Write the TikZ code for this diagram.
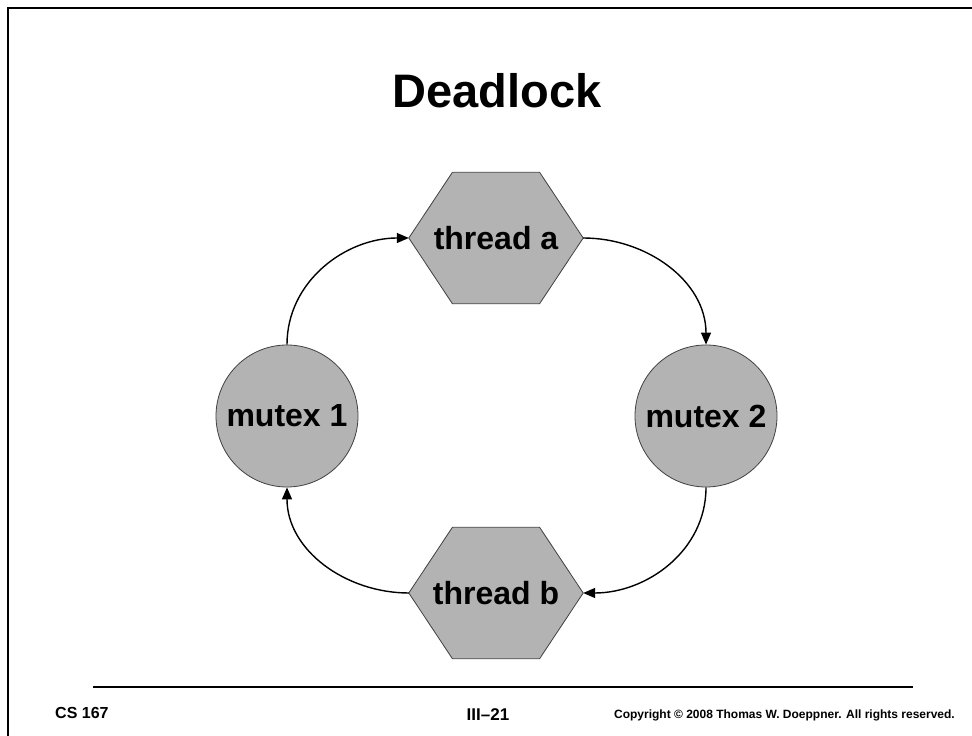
\documentclass[tikz,border=0pt]{standalone}
\usepackage{fontspec}
\setmainfont{Liberation Sans}
\usetikzlibrary{arrows.meta,calc,backgrounds}
\definecolor{shapefill}{HTML}{B3B3B3}
\definecolor{shapeline}{HTML}{404040}
\newcommand\drawhex[1]{%
  \draw[hexbody] (#1.west) -- ($(#1.north west)!.25!(#1.north east)$) -- ($(#1.north west)!.75!(#1.north east)$) -- (#1.east) -- ($(#1.south west)!.75!(#1.south east)$) -- ($(#1.south west)!.25!(#1.south east)$) -- cycle;}
\begin{document}
\begin{tikzpicture}[x=1pt,y=1pt,
  labelfont/.style={font=\fontsize{32}{38}\selectfont\bfseries},
  mutexnode/.style={circle, draw=shapeline, line width=0.8pt, fill=shapefill, minimum size=142pt, inner sep=0pt, labelfont},
  threadnode/.style={rectangle, minimum width=174pt, minimum height=131pt, inner sep=0pt, labelfont},
  hexbody/.style={draw=shapeline, line width=0.8pt, fill=shapefill},
  link/.style={line width=1.4pt, -{Triangle[length=12pt,width=10pt]}},
  foot/.style={inner sep=0pt, font=\fontsize{16}{19}\selectfont\bfseries},
]
\useasboundingbox (0,0) rectangle (972,736);
\begin{scope}[on background layer]
  \fill[white] (0,0) rectangle (972,736);
\end{scope}
\clip (0,0) rectangle (972,736);
% frame
\draw[line width=2.5pt] (8,-20) rectangle (1000,728);
% title
\node[inner sep=0pt, anchor=base, font=\fontsize{47}{56}\selectfont\bfseries] (title) at (497,628) {Deadlock};
% nodes
\node[threadnode] (ta) at (496,498) {thread a};
\node[threadnode] (tb) at (496,143) {thread b};
\node[mutexnode] (m1) at (287,320) {mutex 1};
\node[mutexnode] (m2) at (706,320) {mutex 2};
\begin{scope}[on background layer]
  \drawhex{ta}
  \drawhex{tb}
\end{scope}
% connectors
\draw[link] (m1.north) to[out=90,in=180] (ta.west);
\draw[link] (ta.east) to[out=0,in=90] (m2.north);
\draw[link] (m2.south) to[out=-90,in=0] (tb.east);
\draw[link] (tb.west) to[out=180,in=-90] (m1.south);
% footer
\coordinate (rl) at (93,49);
\coordinate (rr) at (913,49);
\draw[line width=2pt] (rl) -- (rr);
\node[foot, anchor=base west] (course) at (55,17) {CS 167};
\node[foot, anchor=base, font=\fontsize{17}{20}\selectfont\bfseries] (page) at (488,15) {III–21};
\node[foot, anchor=base east, font=\fontsize{12}{14}\selectfont\bfseries] (copy) at (955,17) {Copyright © 2008 Thomas W. Doeppner. All rights reserved.};
\end{tikzpicture}
\end{document}
